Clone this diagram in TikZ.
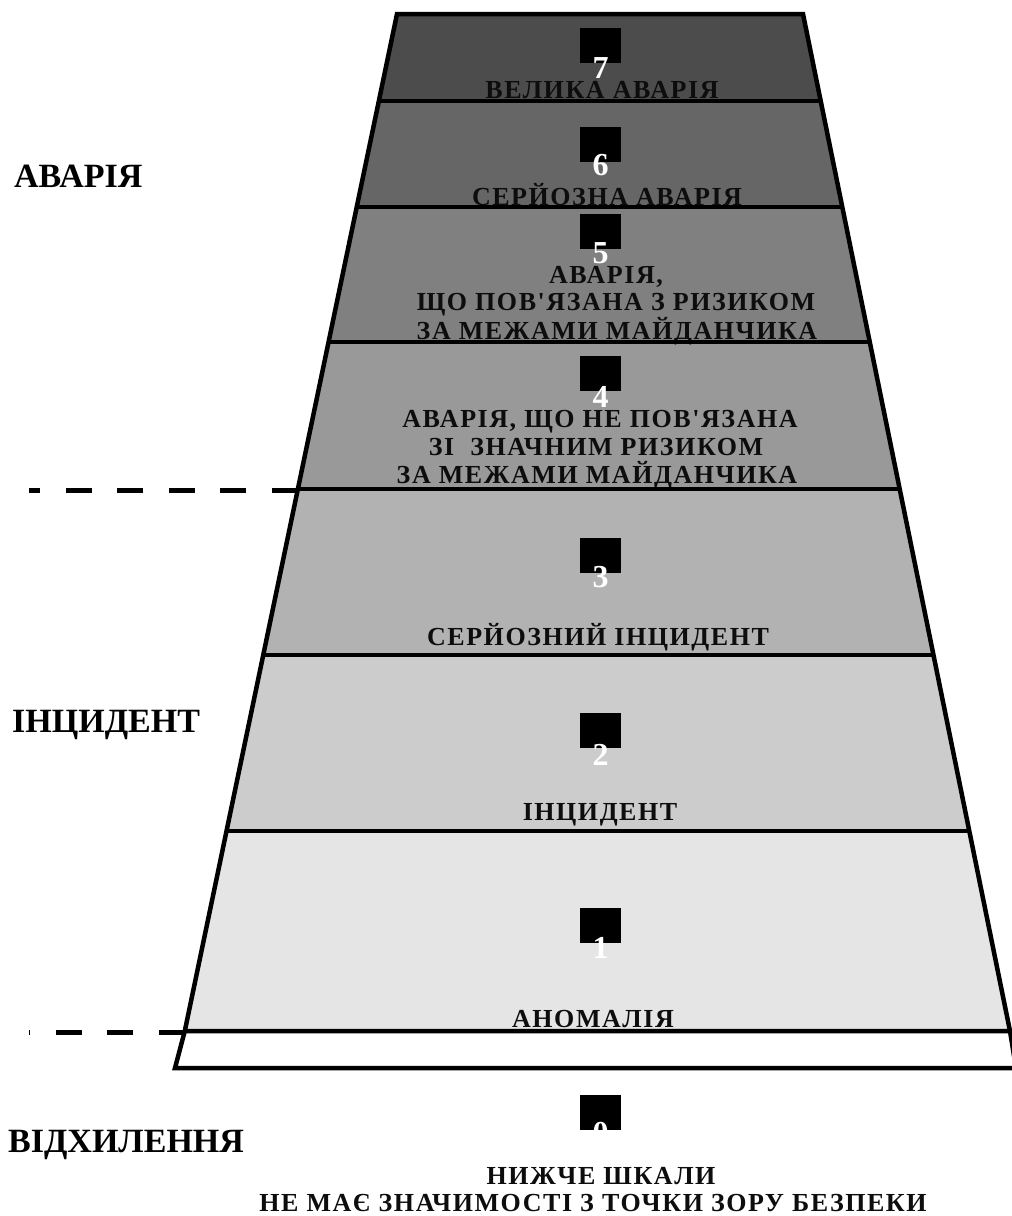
\documentclass[tikz,border=0pt]{standalone}
\usepackage{fontspec}
\setmainfont{Liberation Serif}
\newfontfamily\lblfont{Liberation Serif}[LetterSpace=6]
\usetikzlibrary{calc}

\tikzset{
  edge/.style={line width=4.5pt},
  sepline/.style={line width=5pt, dash pattern=on 26pt off 25.5pt},
  numbox/.style={fill=black, minimum width=41pt, minimum height=35pt, inner sep=0pt},
  numlbl/.style={anchor=base, inner sep=0pt, text=white, font=\bfseries\fontsize{32}{32}\selectfont},
  lvl/.style={anchor=base, inner sep=0pt, text=black!95, font=\lblfont\bfseries\fontsize{26}{28}\selectfont},
  side/.style={anchor=base west, inner sep=0pt, font=\bfseries\fontsize{34}{40}\selectfont},
}

\begin{document}
\begin{tikzpicture}[x=1pt, y=-1pt]
\useasboundingbox (0,0) rectangle (1012,1216);

% --- Band fills, top to bottom ---
\fill[black!70] (397,14) -- (803,14) -- (820.7,101) -- (378.8,101) -- cycle;
\fill[black!60] (378.8,101) -- (820.7,101) -- (842.3,207) -- (356.7,207) -- cycle;
\fill[black!50] (356.7,207) -- (842.3,207) -- (869.8,342) -- (328.5,342) -- cycle;
\fill[black!40] (328.5,342) -- (869.8,342) -- (899.7,489) -- (297.9,489) -- cycle;
\fill[black!30] (297.9,489) -- (899.7,489) -- (933.5,655) -- (263.2,655) -- cycle;
\fill[black!20] (263.2,655) -- (933.5,655) -- (969.3,831) -- (226.5,831) -- cycle;
\fill[black!10] (226.5,831) -- (969.3,831) -- (1010,1031) -- (184.8,1031) -- cycle;

% --- Level 7 ---
\node[numbox] (sq7) at (600.5,45.5) {};
\node[numlbl] (n7) at (600.5,78) {7};
\node[lvl] (t7) at (602,98) {ВЕЛИКА АВАРІЯ};

% --- Level 6 ---
\node[numbox] (sq6) at (600.5,144) {};
\node[numlbl] (n6) at (600.5,175) {6};
\node[lvl] (t6) at (607,205) {СЕРЙОЗНА АВАРІЯ};

% --- Level 5 ---
\node[numbox] (sq5) at (600.5,231) {};
\node[numlbl] (n5) at (600.5,263) {5};
\node[lvl] (t5a) at (606,283) {АВАРІЯ,};
\node[lvl] (t5b) at (616,310) {ЩО ПОВ'ЯЗАНА З РИЗИКОМ};
\node[lvl] (t5c) at (617,339) {ЗА МЕЖАМИ МАЙДАНЧИКА};

% --- Level 4 ---
\node[numbox] (sq4) at (600.5,373) {};
\node[numlbl] (n4) at (600.5,407) {4};
\node[lvl] (t4a) at (600,427) {АВАРІЯ, ЩО НЕ ПОВ'ЯЗАНА};
\node[lvl] (t4b) at (596,455) {ЗІ~ ЗНАЧНИМ РИЗИКОМ};
\node[lvl] (t4c) at (597,483) {ЗА МЕЖАМИ МАЙДАНЧИКА};

% --- Level 3 ---
\node[numbox] (sq3) at (600.5,555.5) {};
\node[numlbl] (n3) at (600.5,587) {3};
\node[lvl] (t3) at (598,645) {СЕРЙОЗНИЙ ІНЦИДЕНТ};

% --- Level 2 ---
\node[numbox] (sq2) at (600.5,730.5) {};
\node[numlbl] (n2) at (600.5,765) {2};
\node[lvl] (t2) at (600,820) {ІНЦИДЕНТ};

% --- Level 1 ---
\node[numbox] (sq1) at (600.5,925.5) {};
\node[numlbl] (n1) at (600.5,958) {1};
\node[lvl] (t1) at (593,1027) {АНОМАЛІЯ};

% --- Outline and separators ---
\draw[edge] (397,14) -- (803,14) -- (1010,1031) -- (184.8,1031) -- cycle;
\draw[edge] (378.8,101) -- (820.7,101);
\draw[edge] (356.7,207) -- (842.3,207);
\draw[edge] (328.5,342) -- (869.8,342);
\draw[edge] (297.9,489) -- (899.7,489);
\draw[edge] (263.2,655) -- (933.5,655);
\draw[edge] (226.5,831) -- (969.3,831);
\draw[edge] (184.8,1031) -- (175,1068) -- (1016,1068) -- (1010,1031);

% dashed borders between groups
\draw[sepline] (297.9,490) -- (29,490);
\draw[sepline] (184.8,1032) -- (29,1032);

% --- Level 0, below the scale ---
\node[numbox] (sq0) at (600.5,1112) {};
\node[numlbl] (n0) at (600.5,1143) {0};
\node[lvl] (t0a) at (601,1184) {НИЖЧЕ ШКАЛИ};
\node[lvl] (t0b) at (593,1211) {НЕ МАЄ ЗНАЧИМОСТІ З ТОЧКИ ЗОРУ БЕЗПЕКИ};

% --- Group names ---
\node[side] (gAcc) at (14,187) {АВАРІЯ};
\node[side] (gInc) at (12,732) {ІНЦИДЕНТ};
\node[side] (gDev) at (8,1152) {ВІДХИЛЕННЯ};
\end{tikzpicture}
\end{document}
